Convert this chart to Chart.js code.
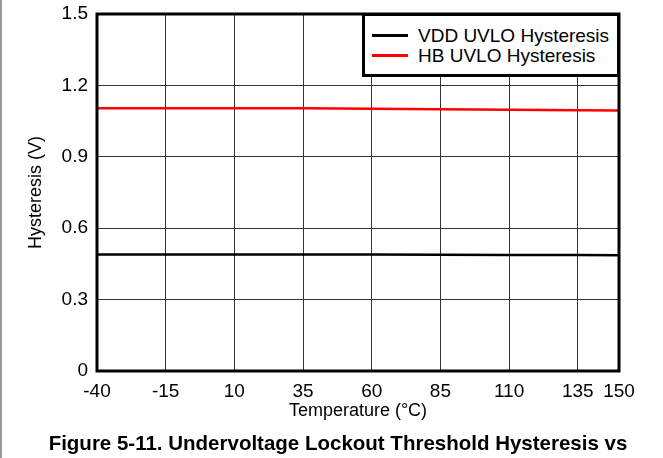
<!DOCTYPE html>
<html>
<head>
<meta charset="utf-8">
<script src="https://cdn.jsdelivr.net/npm/chart.js@4"></script>
<style>
  body { margin: 0; background: #fff; font-family: "Liberation Sans", Arial, sans-serif; }
  #wrap { position: relative; width: 663px; height: 458px; overflow: hidden; }
  #edge { position: absolute; left: 0; top: 0; width: 2px; height: 458px; background: #999; }
  #legend { position: absolute; left: 362px; top: 13px; width: 252px; height: 58px;
            border: 3px solid #000; background: #fff; }
  .item { position: absolute; left: 7px; height: 22px; font-size: 19px; line-height: 22px; color: #000; }
  .item span.sw { position: absolute; left: 0; top: 9px; width: 36px; height: 3px; }
  .item span.tx { position: absolute; left: 46px; top: 0; white-space: nowrap; }
  #caption { position: absolute; left: 0; top: 433px; width: 676px; text-align: center;
             font-weight: bold; font-size: 20.5px; line-height: 20px; color: #000; white-space: nowrap; }
</style>
</head>
<body>
<div id="wrap">
  <canvas id="chart" width="663" height="458"></canvas>
  <div id="edge"></div>
  <div id="legend"></div>
  <div id="caption">Figure 5-11. Undervoltage Lockout Threshold Hysteresis vs</div>
</div>
<script>
const temps = [-40, -15, 10, 35, 60, 85, 110, 135, 150];
const vddHyst = [0.490, 0.490, 0.490, 0.489, 0.489, 0.488, 0.487, 0.487, 0.486];
const hbHyst = [1.104, 1.104, 1.104, 1.104, 1.102, 1.100, 1.098, 1.096, 1.095];
const xTicks = [-40, -15, 10, 35, 60, 85, 110, 135, 150];
const yTicks = [0, 0.3, 0.6, 0.9, 1.2, 1.5];

const font = "'Liberation Sans', Arial, sans-serif";

// thick black frame round the plot area
const frame = {
  id: "frame",
  afterDatasetsDraw(chart) {
    const a = chart.chartArea;
    const ctx = chart.ctx;
    ctx.save();
    ctx.strokeStyle = "#000";
    ctx.lineWidth = 3;
    ctx.strokeRect(a.left, a.top, a.right - a.left, a.bottom - a.top);
    ctx.restore();
  }
};

const chart = new Chart(document.getElementById("chart"), {
  type: "line",
  data: {
    datasets: [
      { label: "VDD UVLO Hysteresis", data: temps.map((t, i) => ({ x: t, y: vddHyst[i] })),
        borderColor: "#000", borderWidth: 2.5, pointRadius: 0, tension: 0 },
      { label: "HB UVLO Hysteresis", data: temps.map((t, i) => ({ x: t, y: hbHyst[i] })),
        borderColor: "#ff0000", borderWidth: 2.5, pointRadius: 0, tension: 0 }
    ]
  },
  options: {
    responsive: false,
    animation: false,
    layout: { padding: { top: 14, right: 44, left: 0, bottom: 0 } },
    plugins: { legend: { display: false }, tooltip: { enabled: false } },
    scales: {
      x: {
        type: "linear", min: -40, max: 150,
        afterBuildTicks: s => { s.ticks = xTicks.map(v => ({ value: v })); },
        afterFit: s => { s.height = 87; s.paddingLeft = 0; s.paddingRight = 0; },
        grid: { color: "#333", lineWidth: 1, drawTicks: false },
        border: { display: false },
        ticks: { color: "#000", font: { family: font, size: 19 }, padding: 9, maxRotation: 0, autoSkip: false },
        title: { display: true, text: "Temperature (°C)", color: "#000",
                 font: { family: font, size: 18 }, padding: { top: 0, bottom: 36 } }
      },
      y: {
        min: 0, max: 1.5,
        afterBuildTicks: s => { s.ticks = yTicks.map(v => ({ value: v })); },
        afterFit: s => { s.width = 97; s.paddingTop = 0; s.paddingBottom = 0; },
        grid: { color: "#333", lineWidth: 1, drawTicks: false },
        border: { display: false },
        ticks: { color: "#000", font: { family: font, size: 19 }, padding: 9,
                 callback: v => v === 0 ? "0" : v.toFixed(1) },
        title: { display: true, text: "Hysteresis (V)", color: "#000",
                 font: { family: font, size: 18 }, padding: { top: 25, bottom: 0 } }
      }
    }
  },
  plugins: [frame]
});

const legendBox = document.getElementById("legend");
chart.data.datasets.forEach((ds, i) => {
  const item = document.createElement("div");
  item.className = "item";
  item.style.top = (9 + i * 20) + "px";
  item.innerHTML = `<span class="sw" style="background:${ds.borderColor}"></span><span class="tx">${ds.label}</span>`;
  legendBox.appendChild(item);
});
</script>
</body>
</html>
